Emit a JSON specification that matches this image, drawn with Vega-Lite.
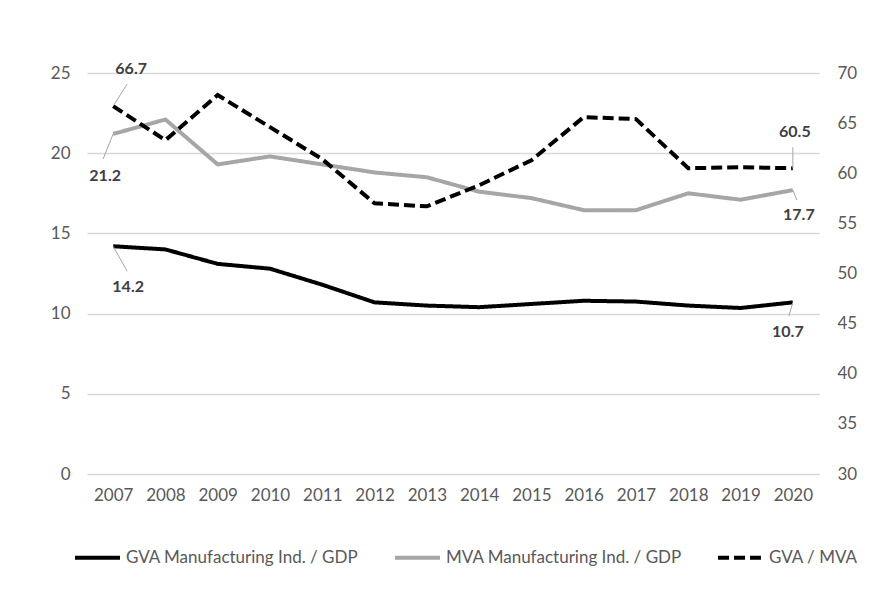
{
  "$schema": "https://vega.github.io/schema/vega-lite/v6.json",
  "autosize": {"type": "none"},
  "padding": {"left": 87, "top": 73, "right": 65, "bottom": 125},
  "width": 732,
  "height": 401,
  "background": "white",
  "config": {
    "font": "Lato",
    "view": {"stroke": null},
    "axis": {"labelFont": "Lato", "labelFontSize": 17, "labelColor": "#595959", "ticks": false, "domain": false, "title": null},
    "legend": {"labelFont": "Lato", "labelFontSize": 17, "labelColor": "#595959", "labelLimit": 400}
  },
  "data": {
    "values": [
      {"year": "2007", "series": "GVA Manufacturing Ind. / GDP", "value": 14.2},
      {"year": "2008", "series": "GVA Manufacturing Ind. / GDP", "value": 14.0},
      {"year": "2009", "series": "GVA Manufacturing Ind. / GDP", "value": 13.1},
      {"year": "2010", "series": "GVA Manufacturing Ind. / GDP", "value": 12.8},
      {"year": "2011", "series": "GVA Manufacturing Ind. / GDP", "value": 11.8},
      {"year": "2012", "series": "GVA Manufacturing Ind. / GDP", "value": 10.7},
      {"year": "2013", "series": "GVA Manufacturing Ind. / GDP", "value": 10.5},
      {"year": "2014", "series": "GVA Manufacturing Ind. / GDP", "value": 10.4},
      {"year": "2015", "series": "GVA Manufacturing Ind. / GDP", "value": 10.6},
      {"year": "2016", "series": "GVA Manufacturing Ind. / GDP", "value": 10.8},
      {"year": "2017", "series": "GVA Manufacturing Ind. / GDP", "value": 10.75},
      {"year": "2018", "series": "GVA Manufacturing Ind. / GDP", "value": 10.5},
      {"year": "2019", "series": "GVA Manufacturing Ind. / GDP", "value": 10.35},
      {"year": "2020", "series": "GVA Manufacturing Ind. / GDP", "value": 10.7},
      {"year": "2007", "series": "MVA Manufacturing Ind. / GDP", "value": 21.2},
      {"year": "2008", "series": "MVA Manufacturing Ind. / GDP", "value": 22.1},
      {"year": "2009", "series": "MVA Manufacturing Ind. / GDP", "value": 19.3},
      {"year": "2010", "series": "MVA Manufacturing Ind. / GDP", "value": 19.8},
      {"year": "2011", "series": "MVA Manufacturing Ind. / GDP", "value": 19.3},
      {"year": "2012", "series": "MVA Manufacturing Ind. / GDP", "value": 18.8},
      {"year": "2013", "series": "MVA Manufacturing Ind. / GDP", "value": 18.5},
      {"year": "2014", "series": "MVA Manufacturing Ind. / GDP", "value": 17.6},
      {"year": "2015", "series": "MVA Manufacturing Ind. / GDP", "value": 17.2},
      {"year": "2016", "series": "MVA Manufacturing Ind. / GDP", "value": 16.45},
      {"year": "2017", "series": "MVA Manufacturing Ind. / GDP", "value": 16.45},
      {"year": "2018", "series": "MVA Manufacturing Ind. / GDP", "value": 17.5},
      {"year": "2019", "series": "MVA Manufacturing Ind. / GDP", "value": 17.1},
      {"year": "2020", "series": "MVA Manufacturing Ind. / GDP", "value": 17.7},
      {"year": "2007", "series": "GVA / MVA", "value": 66.7},
      {"year": "2008", "series": "GVA / MVA", "value": 63.3},
      {"year": "2009", "series": "GVA / MVA", "value": 67.8},
      {"year": "2010", "series": "GVA / MVA", "value": 64.6},
      {"year": "2011", "series": "GVA / MVA", "value": 61.4},
      {"year": "2012", "series": "GVA / MVA", "value": 57.0},
      {"year": "2013", "series": "GVA / MVA", "value": 56.7},
      {"year": "2014", "series": "GVA / MVA", "value": 58.8},
      {"year": "2015", "series": "GVA / MVA", "value": 61.3},
      {"year": "2016", "series": "GVA / MVA", "value": 65.6},
      {"year": "2017", "series": "GVA / MVA", "value": 65.4},
      {"year": "2018", "series": "GVA / MVA", "value": 60.5},
      {"year": "2019", "series": "GVA / MVA", "value": 60.6},
      {"year": "2020", "series": "GVA / MVA", "value": 60.5}
    ]
  },
  "encoding": {
    "x": {"field": "year", "type": "ordinal", "scale": {"type": "point", "padding": 0.5},
          "axis": {"labelAngle": 0, "labelPadding": 13, "grid": false}}
  },
  "layer": [
    {
      "transform": [{"filter": "datum.series !== 'GVA / MVA'"}],
      "encoding": {
        "y": {"field": "value", "type": "quantitative", "scale": {"domain": [0, 25], "nice": false, "zero": false},
              "axis": {"orient": "left", "values": [0, 5, 10, 15, 20, 25], "grid": true, "gridColor": "#d9d9d9", "gridWidth": 1.3, "labelPadding": 17}}
      },
      "layer": [
        {
          "mark": {"type": "line", "strokeWidth": 4},
          "encoding": {
            "color": {"field": "series", "type": "nominal",
                      "scale": {"domain": ["GVA Manufacturing Ind. / GDP", "MVA Manufacturing Ind. / GDP", "GVA / MVA"], "range": ["#000000", "#a6a6a6", "#000000"]},
                      "legend": {"orient": "none", "legendX": -14, "legendY": 460, "direction": "horizontal", "title": null, "symbolType": "stroke", "symbolSize": 2025, "symbolStrokeWidth": 4, "columnPadding": 28, "labelOffset": 4}},
            "strokeDash": {"field": "series", "type": "nominal",
                      "scale": {"domain": ["GVA Manufacturing Ind. / GDP", "MVA Manufacturing Ind. / GDP", "GVA / MVA"], "range": [[1, 0], [1, 0], [11, 5]]},
                      "legend": {"orient": "none", "legendX": -14, "legendY": 460, "direction": "horizontal", "title": null, "symbolType": "stroke", "symbolSize": 2025, "symbolStrokeWidth": 4, "columnPadding": 28, "labelOffset": 4}}
          }
        },
        {
          "transform": [{"filter": "datum.year === '2007' && datum.series === 'MVA Manufacturing Ind. / GDP'"}],
          "mark": {"type": "rule", "color": "#a6a6a6", "strokeWidth": 1, "x2Offset": -10, "y2Offset": 25},
          "encoding": {"x2": {"field": "year"}, "y2": {"field": "value"}}
        },
        {
          "transform": [{"filter": "datum.year === '2007' && datum.series === 'MVA Manufacturing Ind. / GDP'"}],
          "mark": {"type": "text", "color": "#404040", "fontWeight": "bold", "fontSize": 16, "dx": -8, "dy": 42},
          "encoding": {"text": {"field": "value", "format": ".1f"}}
        },
        {
          "transform": [{"filter": "datum.year === '2007' && datum.series === 'GVA Manufacturing Ind. / GDP'"}],
          "mark": {"type": "rule", "color": "#a6a6a6", "strokeWidth": 1, "x2Offset": 14, "y2Offset": 25},
          "encoding": {"x2": {"field": "year"}, "y2": {"field": "value"}}
        },
        {
          "transform": [{"filter": "datum.year === '2007' && datum.series === 'GVA Manufacturing Ind. / GDP'"}],
          "mark": {"type": "text", "color": "#404040", "fontWeight": "bold", "fontSize": 16, "dx": 15, "dy": 41},
          "encoding": {"text": {"field": "value", "format": ".1f"}}
        },
        {
          "transform": [{"filter": "datum.year === '2020' && datum.series === 'MVA Manufacturing Ind. / GDP'"}],
          "mark": {"type": "rule", "color": "#a6a6a6", "strokeWidth": 1, "x2Offset": 4, "y2Offset": 10},
          "encoding": {"x2": {"field": "year"}, "y2": {"field": "value"}}
        },
        {
          "transform": [{"filter": "datum.year === '2020' && datum.series === 'MVA Manufacturing Ind. / GDP'"}],
          "mark": {"type": "text", "color": "#404040", "fontWeight": "bold", "fontSize": 16, "dx": 6, "dy": 25},
          "encoding": {"text": {"field": "value", "format": ".1f"}}
        },
        {
          "transform": [{"filter": "datum.year === '2020' && datum.series === 'GVA Manufacturing Ind. / GDP'"}],
          "mark": {"type": "rule", "color": "#a6a6a6", "strokeWidth": 1, "x2Offset": -4, "y2Offset": 14},
          "encoding": {"x2": {"field": "year"}, "y2": {"field": "value"}}
        },
        {
          "transform": [{"filter": "datum.year === '2020' && datum.series === 'GVA Manufacturing Ind. / GDP'"}],
          "mark": {"type": "text", "color": "#404040", "fontWeight": "bold", "fontSize": 16, "dx": -5, "dy": 30},
          "encoding": {"text": {"field": "value", "format": ".1f"}}
        }
      ]
    },
    {
      "transform": [{"filter": "datum.series === 'GVA / MVA'"}],
      "encoding": {
        "y": {"field": "value", "type": "quantitative", "scale": {"domain": [30, 70], "nice": false, "zero": false},
              "axis": {"orient": "right", "values": [30, 35, 40, 45, 50, 55, 60, 65, 70], "grid": false, "labelPadding": 18}}
      },
      "layer": [
        {
          "mark": {"type": "line", "strokeWidth": 4},
          "encoding": {
            "color": {"field": "series", "type": "nominal"},
            "strokeDash": {"field": "series", "type": "nominal"}
          }
        },
        {
          "transform": [{"filter": "datum.year === '2007'"}],
          "mark": {"type": "rule", "color": "#a6a6a6", "strokeWidth": 1, "x2Offset": 14, "y2Offset": -22},
          "encoding": {"x2": {"field": "year"}, "y2": {"field": "value"}}
        },
        {
          "transform": [{"filter": "datum.year === '2007'"}],
          "mark": {"type": "text", "color": "#404040", "fontWeight": "bold", "fontSize": 16, "dx": 18, "dy": -37},
          "encoding": {"text": {"field": "value", "format": ".1f"}}
        },
        {
          "transform": [{"filter": "datum.year === '2020'"}],
          "mark": {"type": "rule", "color": "#a6a6a6", "strokeWidth": 1, "y2Offset": -21},
          "encoding": {"x2": {"field": "year"}, "y2": {"field": "value"}}
        },
        {
          "transform": [{"filter": "datum.year === '2020'"}],
          "mark": {"type": "text", "color": "#404040", "fontWeight": "bold", "fontSize": 16, "dx": 2, "dy": -36},
          "encoding": {"text": {"field": "value", "format": ".1f"}}
        }
      ]
    }
  ],
  "resolve": {"scale": {"y": "independent"}}
}
